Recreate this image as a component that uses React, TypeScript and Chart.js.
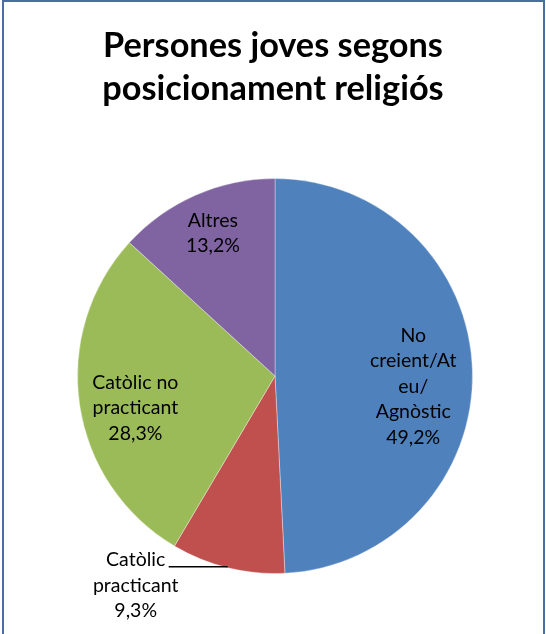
import React, { useEffect, useRef } from "react";
import { Chart, registerables } from "chart.js";

Chart.register(...registerables);

const titleLines = ["Persones joves segons", "posicionament religiós"];
const categories = ["No creient/Ateu/Agnòstic", "Catòlic practicant", "Catòlic no practicant", "Altres"];
const labelLines = [["No", "creient/At", "eu/", "Agnòstic"], ["Catòlic", "practicant"], ["Catòlic no", "practicant"], ["Altres"]];
const values = [49.2, 9.3, 28.3, 13.2];
const colors = ["#4F81BD", "#C0504D", "#9BBB59", "#8064A2"];

const fmt = (v: number) => v.toFixed(1).replace(".", ",") + "%";

const LABEL_FONT = "19.5px Lato, 'Open Sans', sans-serif";
const LINE_H = 25.5;

const decorPlugin = {
  id: "decor",
  beforeDraw(chart: any) {
    const ctx = chart.ctx;
    ctx.save();
    ctx.fillStyle = "#ffffff";
    ctx.fillRect(0, 0, chart.width, chart.height);
    ctx.restore();
  },
  afterDatasetsDraw(chart: any) {
    const ctx = chart.ctx;
    ctx.save();
    // border
    ctx.strokeStyle = "#4A6EA0";
    ctx.lineWidth = 2;
    ctx.beginPath();
    ctx.moveTo(3, 700);
    ctx.lineTo(3, 1);
    ctx.lineTo(544, 1);
    ctx.lineTo(544, 700);
    ctx.stroke();

    // title
    ctx.fillStyle = "#000";
    ctx.textAlign = "center";
    ctx.textBaseline = "alphabetic";
    ctx.font = "bold 34.3px Lato, 'Open Sans', sans-serif";
    ctx.fillText(titleLines[0], 273, 57);
    ctx.fillText(titleLines[1], 273, 100);

    // labels
    const meta = chart.getDatasetMeta(0);
    const tweaks = [
      { f: 0.70, dy: 14 },
      { f: 1, dy: 0 },
      { f: 0.715, dy: 11 },
      { f: 0.78, dy: -2 },
    ];
    ctx.font = LABEL_FONT;
    ctx.textBaseline = "middle";
    meta.data.forEach((arc: any, i: number) => {
      const p = arc.getProps(["x", "y", "startAngle", "endAngle", "outerRadius"], true);
      const mid = (p.startAngle + p.endAngle) / 2;
      const lines = [...labelLines[i], fmt(values[i])];
      if (i === 1) {
        const ax = p.x + Math.cos(mid) * p.outerRadius;
        const ay = p.y + Math.sin(mid) * p.outerRadius - 1;
        const ex = ax - 59;
        ctx.strokeStyle = "#000";
        ctx.lineWidth = 1.5;
        ctx.beginPath();
        ctx.moveTo(ax, ay);
        ctx.lineTo(ex, ay);
        ctx.stroke();
        const cx = ex - 33;
        lines.forEach((t, k) => ctx.fillText(t, cx, ay - 7 + k * LINE_H));
      } else {
        const tw = tweaks[i];
        const cx = p.x + Math.cos(mid) * p.outerRadius * tw.f;
        const cy = p.y + Math.sin(mid) * p.outerRadius * tw.f + tw.dy;
        const top = cy - ((lines.length - 1) * LINE_H) / 2;
        lines.forEach((t, k) => ctx.fillText(t, cx, top + k * LINE_H));
      }
    });
    ctx.restore();
  },
};

export default function App() {
  const ref = useRef<HTMLCanvasElement | null>(null);
  useEffect(() => {
    if (!ref.current) return;
    const chart = new Chart(ref.current, {
      type: "pie",
      data: {
        labels: categories,
        datasets: [
          {
            data: values,
            backgroundColor: colors,
            borderColor: "rgba(255,255,255,0.35)",
            borderWidth: 1,
          },
        ],
      },
      options: {
        responsive: false,
        animation: false,
        devicePixelRatio: 1,
        layout: { padding: { left: 77, right: 73, top: 178, bottom: 60 } },
        plugins: {
          legend: { display: false },
          title: { display: false },
          tooltip: { enabled: false },
        },
      },
      plugins: [decorPlugin],
    });
    return () => chart.destroy();
  }, []);
  return (
    <div style={{ position: "absolute", left: 0, top: 0, width: 546, height: 634, overflow: "hidden" }}>
      <canvas ref={ref} width={546} height={634} style={{ display: "block", width: 546, height: 634 }} />
    </div>
  );
}
